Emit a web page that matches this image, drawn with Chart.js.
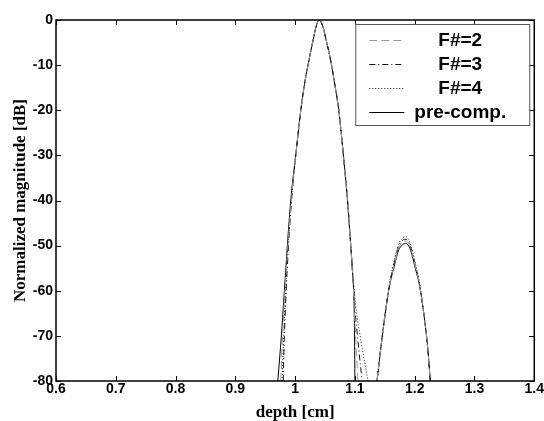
<!DOCTYPE html>
<html>
<head>
<meta charset="utf-8">
<script src="https://cdn.jsdelivr.net/npm/chart.js@4.4.1/dist/chart.umd.min.js"></script>
<style>
  body { margin: 0; background: #fff; }
  #wrap { width: 544px; height: 421px; position: relative; }
</style>
</head>
<body>
<div id="wrap"><canvas id="beamChart"></canvas></div>
<script>
// axis ticks
const xTickLabels = ['0.6', '0.7', '0.8', '0.9', '1', '1.1', '1.2', '1.3', '1.4'];
const yTickLabels = ['0', '-10', '-20', '-30', '-40', '-50', '-60', '-70', '-80'];

// series labels (legend order)
const seriesLabels = ['F#=2', 'F#=3', 'F#=4', 'pre-comp.'];

// depth [cm] / magnitude [dB], null = gap between main lobe and side lobe
const f2Depth = [0.976, 0.979, 0.983, 0.988, 0.994, 1.001, 1.0095, 1.016, 1.023, 1.030, 1.035, 1.040, 1.046, 1.052, 1.0595, 1.066, 1.073, 1.080, 1.087, 1.092, 1.096, 1.099, 1.102, 1.105, 1.12,
                 1.137, 1.143, 1.154, 1.159, 1.165, 1.173, 1.179, 1.184, 1.189, 1.193, 1.201, 1.207, 1.212, 1.222, 1.226];
const f2Db    = [-80, -70, -60, -50, -39.5, -30, -20, -14, -9, -4.5, -1.5, 0, -1.3, -4.5, -9, -14, -20, -29, -39, -48, -56, -64, -72, -80, null,
                 -80, -73, -62, -58, -54.6, -50.6, -49.3, -49, -49.4, -50.6, -54.6, -58, -62, -73, -80];

const f3Depth = [0.980, 0.982, 0.985, 0.989, 0.994, 1.001, 1.0095, 1.016, 1.023, 1.030, 1.035, 1.040, 1.046, 1.052, 1.0595, 1.066, 1.073, 1.080, 1.087, 1.092, 1.096, 1.100, 1.105, 1.112, 1.125,
                 1.137, 1.143, 1.154, 1.159, 1.165, 1.173, 1.179, 1.184, 1.189, 1.193, 1.201, 1.207, 1.212, 1.222, 1.226];
const f3Db    = [-80, -70, -60, -50, -40, -30, -20, -14, -9, -4.5, -1.5, 0, -1.3, -4.5, -9, -14, -20, -29, -39, -48, -56, -64, -71, -80, null,
                 -80, -73, -62, -57.8, -54.3, -50.2, -48.9, -48.6, -49, -50.2, -54.3, -57.8, -62, -73, -80];

const f4Depth = [0.978, 0.981, 0.984, 0.988, 0.994, 1.001, 1.0095, 1.016, 1.023, 1.030, 1.035, 1.040, 1.046, 1.052, 1.0595, 1.066, 1.073, 1.080, 1.087, 1.092, 1.097, 1.102, 1.110, 1.122, 1.13,
                 1.137, 1.143, 1.154, 1.159, 1.165, 1.173, 1.179, 1.184, 1.189, 1.193, 1.201, 1.207, 1.212, 1.222, 1.226];
const f4Db    = [-80, -70, -60, -50, -39.7, -30, -20, -14, -9, -4.5, -1.5, 0, -1.3, -4.5, -9, -14, -20, -29, -39, -48, -57, -64, -71, -80, null,
                 -80, -73, -61.8, -57.5, -53.8, -49.7, -48.4, -48, -48.4, -49.7, -53.8, -57.5, -61.8, -73, -80];

const precompDepth = [0.971, 0.977, 0.982, 0.987, 0.993, 1.001, 1.0095, 1.016, 1.023, 1.030, 1.035, 1.040, 1.046, 1.052, 1.0595, 1.066, 1.073, 1.080, 1.087, 1.092, 1.096, 1.099, 1.100, 1.12,
                      1.137, 1.143, 1.154, 1.159, 1.165, 1.173, 1.179, 1.184, 1.189, 1.193, 1.201, 1.207, 1.212, 1.222, 1.226];
const precompDb    = [-80, -70, -60, -50, -39.5, -30, -20, -14, -9, -4.5, -1.5, 0, -1.3, -4.5, -9, -14, -20, -29, -39, -48, -56, -66, -80, null,
                      -80, -73, -62, -58.2, -55, -51, -49.9, -49.5, -49.9, -51, -55, -58.2, -62, -73, -80];

function toPoints(xs, ys) {
    return xs.map((x, i) => ({ x: x, y: ys[i] }));
}

const tickFont = { family: 'Liberation Sans', size: 14, weight: 'bold' };
const titleFont = { family: 'Liberation Serif', size: 17, weight: 'bold', lineHeight: 1 };

// box around the plot with inward ticks on all four sides
const frameTicks = {
    id: 'frameTicks',
    afterDatasetsDraw(chart) {
        const ctx = chart.ctx;
        const a = chart.chartArea;
        const xs = chart.scales.x, ys = chart.scales.y;
        const len = 5;
        ctx.save();
        ctx.strokeStyle = '#000';
        ctx.lineWidth = 1;
        ctx.setLineDash([]);
        ctx.beginPath();
        xs.ticks.forEach(t => {
            const px = Math.round(xs.getPixelForValue(t.value)) + 0.5;
            ctx.moveTo(px, a.bottom); ctx.lineTo(px, a.bottom - len);
            ctx.moveTo(px, a.top); ctx.lineTo(px, a.top + len);
        });
        ys.ticks.forEach(t => {
            const py = Math.round(ys.getPixelForValue(t.value)) + 0.5;
            ctx.moveTo(a.left, py); ctx.lineTo(a.left + len, py);
            ctx.moveTo(a.right, py); ctx.lineTo(a.right - len, py);
        });
        ctx.stroke();
        ctx.lineWidth = 1.5;
        ctx.strokeRect(a.left, a.top, a.right - a.left, a.bottom - a.top);
        ctx.restore();
    }
};

// legend box inside the top right corner, like the original
const boxLegend = {
    id: 'boxLegend',
    afterDraw(chart) {
        const ctx = chart.ctx;
        const a = chart.chartArea;
        const right = a.right - 5, top = a.top + 4;
        const w = 174, h = 101;
        const left = right - w;
        ctx.save();
        ctx.fillStyle = '#fff';
        ctx.fillRect(left, top, w, h);
        ctx.strokeStyle = '#555';
        ctx.lineWidth = 1;
        ctx.setLineDash([]);
        ctx.strokeRect(left + 0.5, top + 0.5, w, h);
        ctx.font = 'bold 19px "Liberation Sans"';
        ctx.textAlign = 'center';
        ctx.textBaseline = 'middle';
        chart.data.datasets.forEach((ds, i) => {
            const y = top + 16 + i * 24;
            ctx.strokeStyle = ds.borderColor;
            ctx.lineWidth = ds.borderWidth;
            ctx.setLineDash(ds.borderDash || []);
            ctx.beginPath();
            ctx.moveTo(left + 14, y + 0.5);
            ctx.lineTo(left + 49, y + 0.5);
            ctx.stroke();
            ctx.fillStyle = '#000';
            ctx.fillText(ds.label, left + 105, y + 1);
        });
        ctx.restore();
    }
};

const ctx = document.getElementById('beamChart').getContext('2d');
new Chart(ctx, {
    type: 'line',
    data: {
        datasets: [{
            label: seriesLabels[0],
            data: toPoints(f2Depth, f2Db),
            borderColor: '#9a9a9a',
            borderWidth: 1,
            borderDash: [8, 4]
        }, {
            label: seriesLabels[1],
            data: toPoints(f3Depth, f3Db),
            borderColor: '#111',
            borderWidth: 1,
            borderDash: [6, 3, 1, 3]
        }, {
            label: seriesLabels[2],
            data: toPoints(f4Depth, f4Db),
            borderColor: '#222',
            borderWidth: 1,
            borderDash: [1, 2]
        }, {
            label: seriesLabels[3],
            data: toPoints(precompDepth, precompDb),
            borderColor: '#000',
            borderWidth: 1
        }]
    },
    options: {
        responsive: true,
        maintainAspectRatio: false,
        animation: false,
        spanGaps: false,
        elements: { point: { radius: 0 }, line: { cubicInterpolationMode: 'monotone' } },
        layout: { padding: { top: 20, right: 7, left: 0, bottom: 0 } },
        plugins: {
            legend: { display: false },
            tooltip: { enabled: false }
        },
        scales: {
            x: {
                type: 'linear',
                min: 0.6,
                max: 1.4,
                grid: { display: false, drawTicks: false },
                border: { display: false },
                ticks: {
                    stepSize: 0.1,
                    color: '#000',
                    font: tickFont,
                    padding: 0,
                    maxRotation: 0,
                    autoSkip: false,
                    callback: (value, index) => xTickLabels[index]
                },
                title: { display: true, text: 'depth [cm]', color: '#000', font: titleFont, padding: 0 },
                afterFit: scale => { scale.height = 40; }
            },
            y: {
                min: -80,
                max: 0,
                grid: { display: false, drawTicks: false },
                border: { display: false },
                ticks: {
                    stepSize: 10,
                    color: '#000',
                    font: tickFont,
                    padding: 3,
                    autoSkip: false,
                    callback: (value, index, ticks) => yTickLabels[ticks.length - 1 - index]
                },
                title: { display: true, text: 'Normalized magnitude [dB]', color: '#000', font: titleFont, padding: { top: 12 } },
                afterFit: scale => { scale.width = 56; }
            }
        }
    },
    plugins: [frameTicks, boxLegend]
});
</script>
</body>
</html>
